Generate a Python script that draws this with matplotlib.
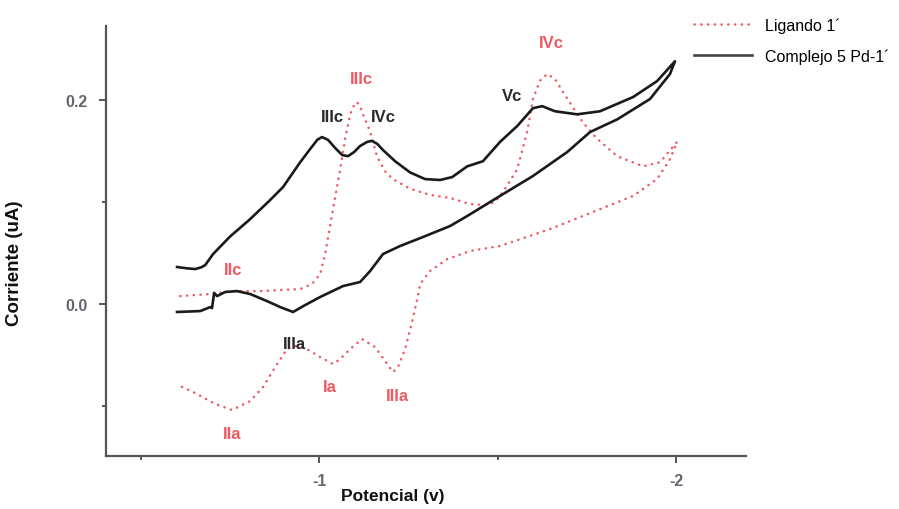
import matplotlib
matplotlib.use("Agg")
import matplotlib.pyplot as plt

# Cyclic voltammograms: free ligand vs. Pd complex
complejo_v = [-0.602, -0.630, -0.653, -0.670, -0.681, -0.703, -0.750, -0.807, -0.860, -0.899,
              -0.947, -0.975, -0.995, -1.008, -1.025, -1.045, -1.065, -1.081, -1.098, -1.115,
              -1.135, -1.148, -1.163, -1.179, -1.213, -1.255, -1.297, -1.339, -1.373, -1.415,
              -1.459, -1.507, -1.555, -1.599, -1.625, -1.661, -1.723, -1.787, -1.880, -1.947,
              -1.997,
              -1.983, -1.927, -1.835, -1.759, -1.695, -1.599, -1.507, -1.415, -1.367,
              -1.291, -1.227, -1.179, -1.143, -1.115, -1.067, -1.003, -0.961, -0.927,
              -0.891, -0.854, -0.807, -0.770, -0.737, -0.714, -0.706, -0.700, -0.695,
              -0.667, -0.602]
complejo_i = [0.0363, 0.0350, 0.0343, 0.0360, 0.0382, 0.049, 0.066, 0.0833, 0.101, 0.1147,
              0.139, 0.152, 0.161, 0.1637, 0.161, 0.153, 0.146, 0.145, 0.149, 0.155,
              0.159, 0.160, 0.157, 0.151, 0.140, 0.129, 0.1225, 0.1216, 0.1245, 0.135,
              0.140, 0.159, 0.1745, 0.192, 0.194, 0.189, 0.186, 0.189, 0.203, 0.2186,
              0.238,
              0.2255, 0.201, 0.181, 0.1686, 0.149, 0.1255, 0.106, 0.0863, 0.0765,
              0.0657, 0.0569, 0.049, 0.0324, 0.0216, 0.0176, 0.0069, -0.001, -0.0078,
              -0.003, 0.0029, 0.0098, 0.0127, 0.0118, 0.0078, 0.011, -0.004, -0.003,
              -0.0069, -0.0078]

ligando_v = [-0.611, -0.695, -0.759, -0.835, -0.947, -0.980, -1.003, -1.017, -1.039,
             -1.059, -1.073, -1.087, -1.098, -1.106, -1.115, -1.123, -1.143, -1.162, -1.185,
             -1.207, -1.255, -1.311, -1.367, -1.423, -1.465, -1.493, -1.521, -1.555, -1.583,
             -1.599, -1.619, -1.639, -1.661, -1.683, -1.739, -1.779, -1.835, -1.908, -1.955,
             -2.003,
             -1.983, -1.947, -1.880, -1.787, -1.647, -1.507, -1.423, -1.359, -1.311,
             -1.283, -1.275, -1.261, -1.241, -1.221, -1.207, -1.185, -1.157, -1.120,
             -1.087, -1.059, -1.039, -1.003, -0.966, -0.933, -0.910, -0.877, -0.843,
             -0.807, -0.756, -0.709, -0.653, -0.611]
ligando_i = [0.0078, 0.0098, 0.0127, 0.0127, 0.0147, 0.0196, 0.0294, 0.049, 0.093,
             0.132, 0.162, 0.186, 0.195, 0.198, 0.194, 0.186, 0.169, 0.145, 0.130,
             0.1225, 0.113, 0.107, 0.104, 0.098, 0.097, 0.100, 0.113, 0.132, 0.169,
             0.201, 0.219, 0.2255, 0.2206, 0.208, 0.178, 0.162, 0.145, 0.135, 0.139,
             0.159,
             0.142, 0.1225, 0.106, 0.093, 0.0735, 0.0569, 0.052, 0.044, 0.0324,
             0.0196, 0.0049, -0.0167, -0.0441, -0.0618, -0.0667, -0.0559, -0.0422, -0.0343,
             -0.0441, -0.0539, -0.0588, -0.052, -0.0441, -0.0412, -0.0441, -0.0618, -0.0814,
             -0.0951, -0.1039, -0.098, -0.0873, -0.0804]

# Peak labels: (text, potential, current)
complejo_peaks = [("IIIc", -1.038, 0.184), ("IVc", -1.18, 0.184),
                  ("Vc", -1.54, 0.204), ("IIIa", -0.93, -0.0385)]
ligando_peaks = [("IIIc", -1.12, 0.221), ("IVc", -1.65, 0.256), ("IIc", -0.76, 0.034),
                 ("Ia", -1.03, -0.081), ("IIIa", -1.22, -0.090), ("IIa", -0.755, -0.127)]

series_labels = ["Ligando 1\u00b4", "Complejo 5 Pd-1\u00b4"]

plt.rcParams["font.family"] = ["Liberation Sans", "DejaVu Sans"]

RED = "#ee5a63"
BLACK = "#1a1a1a"
GREY = "#555555"

fig = plt.figure(figsize=(8.99, 5.10), dpi=100)
ax = fig.add_axes([106 / 899, 1 - 457 / 510, 640 / 899, 430 / 510])

ax.plot(ligando_v, ligando_i, color=RED, lw=1.8, linestyle=(0, (0.1, 2.6)),
        dash_capstyle="round", label=series_labels[0])
ax.plot(complejo_v, complejo_i, color=BLACK, lw=1.9, label=series_labels[1])

ax.set_xlim(-0.403, -2.196)
ax.set_ylim(-0.149, 0.2726)

for txt, v, i in complejo_peaks:
    ax.text(v, i, txt, color="#2a2a2a", fontsize=12, fontweight="bold",
            ha="center", va="center")
for txt, v, i in ligando_peaks:
    ax.text(v, i, txt, color=RED, fontsize=12, fontweight="bold",
            ha="center", va="center")

for side in ("top", "right"):
    ax.spines[side].set_visible(False)
for side in ("left", "bottom"):
    ax.spines[side].set_color(GREY)
    ax.spines[side].set_linewidth(1.6)

ax.set_xticks([-1, -2])
ax.set_xticklabels(["-1", "-2"])
ax.set_xticks([-0.5, -1.5], minor=True)
ax.set_yticks([0.0, 0.2])
ax.set_yticklabels(["0.0", "0.2"])
ax.set_yticks([-0.1, 0.1], minor=True)
ax.tick_params(which="both", direction="out", color=GREY, width=1.4)
ax.tick_params(which="major", length=5, labelsize=11.5, labelcolor="#666670")
ax.tick_params(axis="x", which="major", pad=7)
ax.tick_params(axis="y", which="major", pad=8)
ax.tick_params(which="minor", length=3)
for lab in ax.get_xticklabels() + ax.get_yticklabels():
    lab.set_fontweight("bold")

ax.set_xlabel("Potencial (v)", fontsize=12.5, fontweight="bold", color="#111111")
ax.set_ylabel("Corriente (uA)", fontsize=13.5, fontweight="bold", color="#111111")
ax.xaxis.set_label_coords(0.448, -0.074)
ax.yaxis.set_label_coords(-0.13, 0.451)

leg = ax.legend(loc="upper left", bbox_to_anchor=(680 / 899, 1 - 4 / 510),
                bbox_transform=fig.transFigure, frameon=False,
                handlelength=3.6, handletextpad=0.85, labelspacing=0.95,
                prop={"family": ["Liberation Sans", "DejaVu Sans"], "size": 11.5})
leg.get_lines()[1].set_color("#444444")

fig.savefig("out.png", dpi=100)
